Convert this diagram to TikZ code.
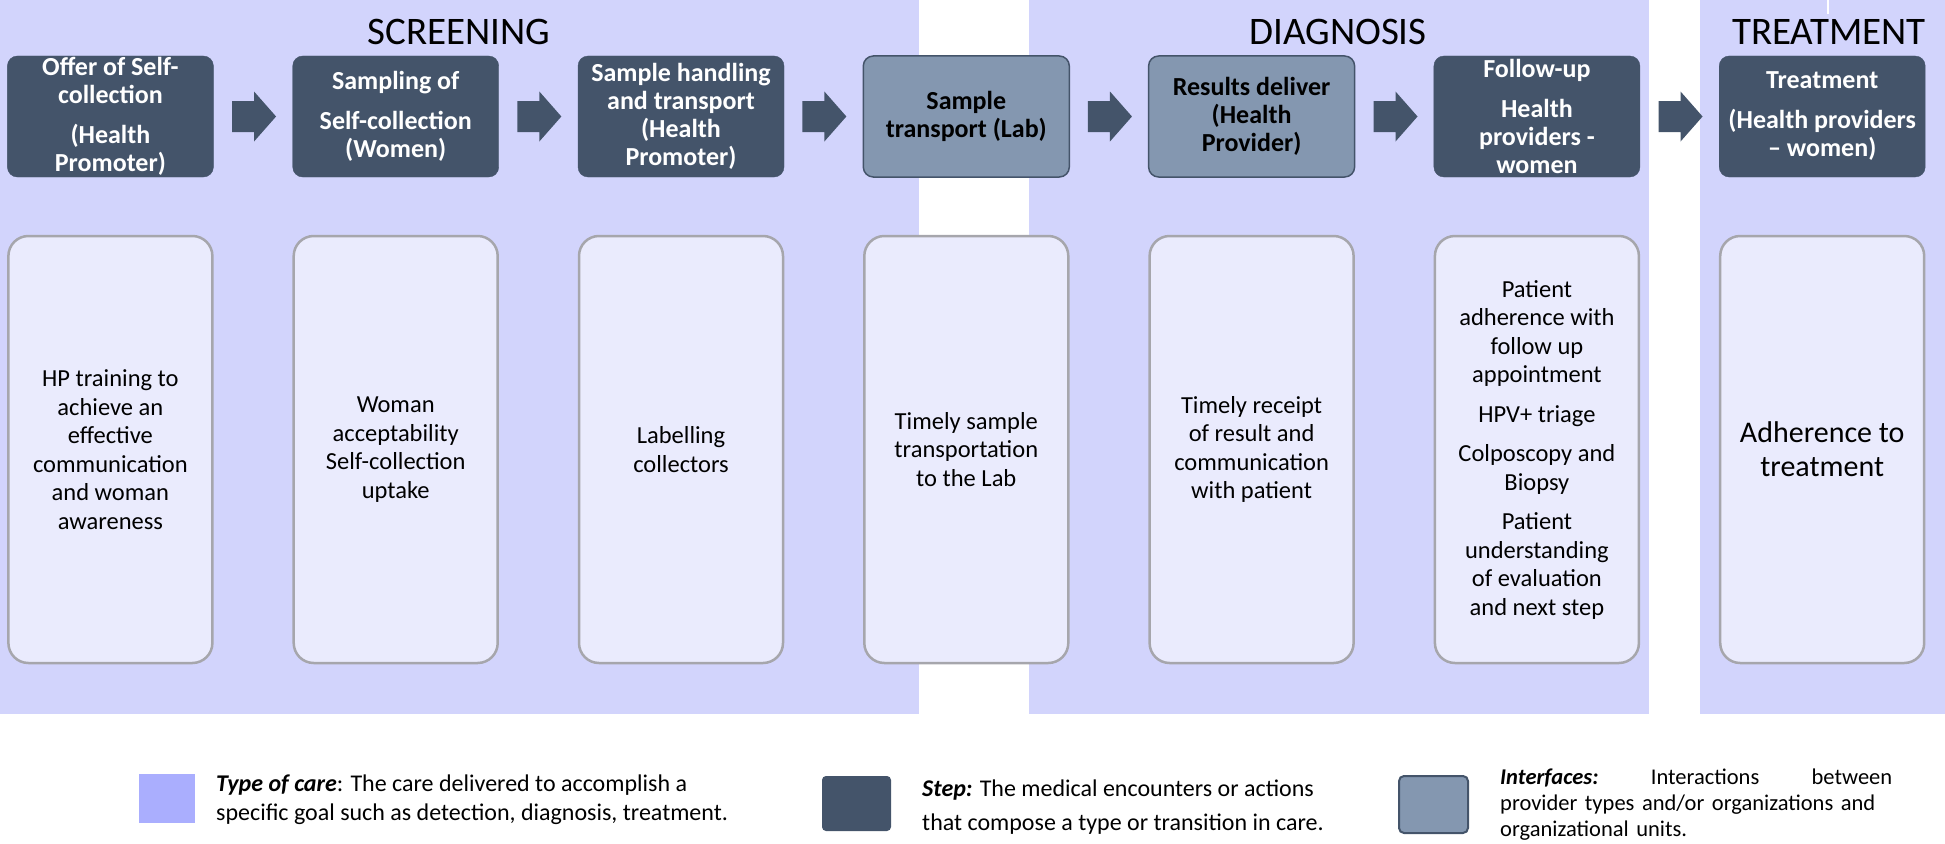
\documentclass[tikz,border=0pt]{standalone}
\usepackage{fontspec}
\setmainfont{Carlito}
\usetikzlibrary{calc}
\definecolor{band}{HTML}{D2D4FC}
\definecolor{stepc}{HTML}{44546A}
\definecolor{intc}{HTML}{8497B0}
\definecolor{cellc}{HTML}{EAEBFD}
\definecolor{celldraw}{HTML}{A6A6AC}
\definecolor{legc}{HTML}{AAAEFE}
\begin{document}
\begin{tikzpicture}[x=1pt,y=-1pt,
  stepbox/.style={fill=stepc, draw=stepc, rounded corners=10pt, minimum width=206pt, minimum height=121pt,
    text=white, font=\fontsize{26}{28}\selectfont\bfseries, align=center, inner sep=0pt},
  intbox/.style={stepbox, fill=intc, draw=stepc, line width=1.5pt, text=black},
  cellbox/.style={fill=cellc, draw=celldraw, line width=2.5pt, rounded corners=20pt, minimum width=204pt,
    minimum height=427pt, align=center, font=\fontsize{24.5}{28.5}\selectfont, inner sep=0pt},
  headtext/.style={anchor=base, font=\fontsize{39}{45}\selectfont, inner sep=0pt},
  legtext/.style={anchor=west, align=left, inner sep=0pt},
  blockarrow/.style={fill=stepc}
]
\useasboundingbox (0,0) rectangle (1945,843);
% type-of-care bands
\fill[band] (0,0) rectangle (919,714);
\fill[band] (1029,0) rectangle (1649,714);
\fill[band] (1700,0) rectangle (1945,714);
\draw[white, line width=2pt] (1828,0) -- (1828,14);
% headings
\node[headtext] (h1) at (459,45) {SCREENING};
\node[headtext] (h2) at (1338,45) {DIAGNOSIS};
\node[headtext] (h3) at (1829,45) {TREATMENT};
% steps
\node[stepbox] (s1) at (110.4,116.5) {Offer of Self-\\collection\\[12pt](Health\\Promoter)};
\node[stepbox] (s2) at (395.7,116.5) {Sampling of\\[12pt]Self-collection\\(Women)};
\node[stepbox] (s3) at (681,116.5) {Sample handling\\and transport\\(Health\\Promoter)};
\node[intbox]  (s4) at (966.3,116.5) {Sample\\transport (Lab)};
\node[intbox]  (s5) at (1251.6,116.5) {Results deliver\\(Health\\Provider)};
\node[stepbox] (s6) at (1536.9,116.5) {Follow-up\\[12pt]Health\\providers -\\women};
\node[stepbox] (s7) at (1822.2,116.5) {Treatment\\[12pt](Health providers\\– women)};
% block arrows
\foreach \a/\b in {s1/s2,s2/s3,s3/s4,s4/s5,s5/s6,s6/s7}{
  \coordinate (m) at ($(\a.east)!0.5!(\b.west)$);
  \fill[blockarrow] ($(m)+(-21,-15.5)$) -- ($(m)+(1,-15.5)$) -- ($(m)+(1,-25)$) -- ($(m)+(23,0)$)
    -- ($(m)+(1,25)$) -- ($(m)+(1,15.5)$) -- ($(m)+(-21,15.5)$) -- cycle;
}
% cells
\node[cellbox] (c1) at (110.4,449.5) {HP training to\\achieve an\\effective\\communication\\and woman\\awareness};
\node[cellbox] (c2) at (395.7,449.5) {Woman\\acceptability\\Self-collection\\uptake};
\node[cellbox] (c3) at (681,449.5) {Labelling\\collectors};
\node[cellbox] (c4) at (966.3,449.5) {Timely sample\\transportation\\to the Lab};
\node[cellbox] (c5) at (1251.6,449.5) {Timely receipt\\of result and\\communication\\with patient};
\node[cellbox] (c6) at (1536.9,449.5) {Patient\\adherence with\\follow up\\appointment\\[11pt]HPV+ triage\\[11pt]Colposcopy and\\Biopsy\\[11pt]Patient\\understanding\\of evaluation\\and next step};
\node[cellbox, font=\fontsize{30}{34}\selectfont] (c7) at (1822.2,449.5) {Adherence to\\treatment};
% legend
\fill[legc] (139,774) rectangle (195,823);
\node[legtext, font=\fontsize{24}{29}\selectfont] (l1) at (216,799.5)
  {\textbf{\textit{Type of care}}: The care delivered to accomplish a\\specific goal such as detection, diagnosis, treatment.};
\fill[stepc, rounded corners=4pt] (822,776) rectangle (891,831);
\node[legtext, font=\fontsize{24}{34}\selectfont] (l2) at (922,807)
  {\textbf{\textit{Step:}} The medical encounters or actions\\that compose a type or transition in care.};
\filldraw[fill=intc, draw=stepc, line width=2pt, rounded corners=5pt] (1399,776) rectangle (1468,833);
\node[legtext, text width=392pt, font=\fontsize{22.5}{26}\selectfont] (l3) at (1500,805)
  {\textbf{\textit{Interfaces:}}\hfill Interactions\hfill between\\\mbox{provider types and/or organizations and}\\organizational units.};
\end{tikzpicture}
\end{document}
